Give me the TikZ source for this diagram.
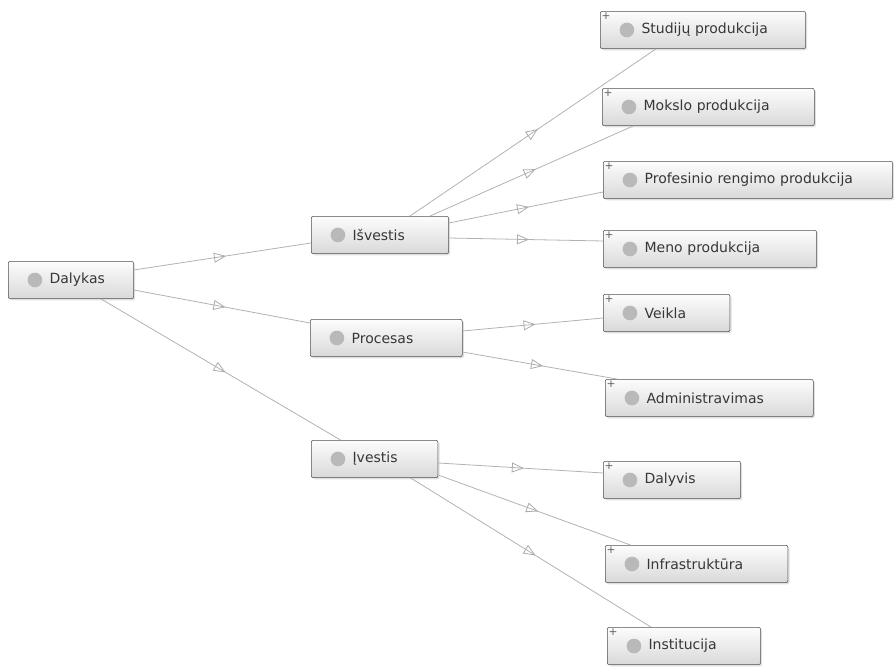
\documentclass[tikz,border=0pt]{standalone}
\usepackage{fontspec}
\setmainfont{DejaVu Sans}
\usetikzlibrary{arrows.meta,decorations.markings,calc,shadows}

\tikzset{
  box/.style={draw={rgb,255:red,80;green,80;blue,80}, rounded corners=1.5pt, top color=gray!2, bottom color=gray!30,
    minimum height=28pt, inner xsep=0pt, inner ysep=0pt, align=left, anchor=west,
    text={rgb,255:red,55;green,55;blue,55}, font=\fontsize{10.5}{12}\selectfont,
    drop shadow={shadow xshift=1.2pt, shadow yshift=-1.2pt, opacity=0.25},
    path picture={\fill[gray!55] ([xshift=20pt]path picture bounding box.west) circle (5.5pt);},
    execute at begin node={\hspace*{31pt}}},
  concept/.style={box, text width=#1},
  leaf/.style={box, text width=#1,
    label={[anchor=north west, inner sep=1pt, text=gray!75!black, font=\fontsize{8}{8}\selectfont]north west:+}},
  link/.style={draw=gray!60, line width=0.6pt, postaction={decorate},
    decoration={markings, mark=at position 0.52 with {\arrow[gray!65, line width=0.6pt]{Triangle[open, length=9pt, width=7.5pt]}}}},
}

\begin{document}
\begin{tikzpicture}[x=0.75pt,y=0.75pt,yscale=-1,xscale=1]
\useasboundingbox (0,0) rectangle (894,670);

% Left and middle nodes
\node[concept=94pt]  (dalykas)  at (8,280)   {Dalykas};
\node[concept=103pt] (isvestis) at (311,235) {Išvestis};
\node[concept=114pt] (procesas) at (310,338) {Procesas};
\node[concept=95pt]  (ivestis)  at (311,459) {Įvestis};

% Right nodes
\node[leaf=154pt] (studiju)     at (600,30)  {Studijų produkcija};
\node[leaf=159pt] (mokslo)      at (602,107) {Mokslo produkcija};
\node[leaf=217pt] (profesinio)  at (603,180) {Profesinio rengimo produkcija};
\node[leaf=160pt] (meno)        at (603,249) {Meno produkcija};
\node[leaf=95pt]  (veikla)      at (603,313) {Veikla};
\node[leaf=156pt] (admin)       at (605,398) {Administravimas};
\node[leaf=103pt] (dalyvis)     at (603,480) {Dalyvis};
\node[leaf=137pt] (infra)       at (605,564) {Infrastruktūra};
\node[leaf=115pt] (institucija) at (607,646) {Institucija};

% Links
\draw[link] ($(dalykas.east)+(0,-10)$) -- ($(isvestis.west)+(0,8)$);
\draw[link] ($(dalykas.east)+(0,10)$) -- ($(procesas.west)+(0,-15)$);
\draw[link] ($(dalykas.south)+(30,0)$) -- ($(ivestis.north)+(-34,0)$);

\draw[link] ($(isvestis.north)+(30,0)$) -- ($(studiju.south)+(-47,0)$);
\draw[link] ($(isvestis.north)+(50,0)$) -- ($(mokslo.south)+(-75,0)$);
\draw[link] ($(isvestis.east)+(0,-12)$) -- ($(profesinio.west)+(0,12)$);
\draw[link] ($(isvestis.east)+(0,3)$) -- ($(meno.west)+(0,-8)$);

\draw[link] ($(procesas.east)+(0,-7)$) -- ($(veikla.west)+(0,5)$);
\draw[link] ($(procesas.east)+(0,14)$) -- ($(admin.north)+(-92,0)$);

\draw[link] ($(ivestis.east)+(0,4)$) -- ($(dalyvis.west)+(0,-7)$);
\draw[link] ($(ivestis.east)+(0,16)$) -- ($(infra.north)+(-66,0)$);
\draw[link] ($(ivestis.south)+(36,0)$) -- ($(institucija.north)+(-33,0)$);

\end{tikzpicture}
\end{document}
